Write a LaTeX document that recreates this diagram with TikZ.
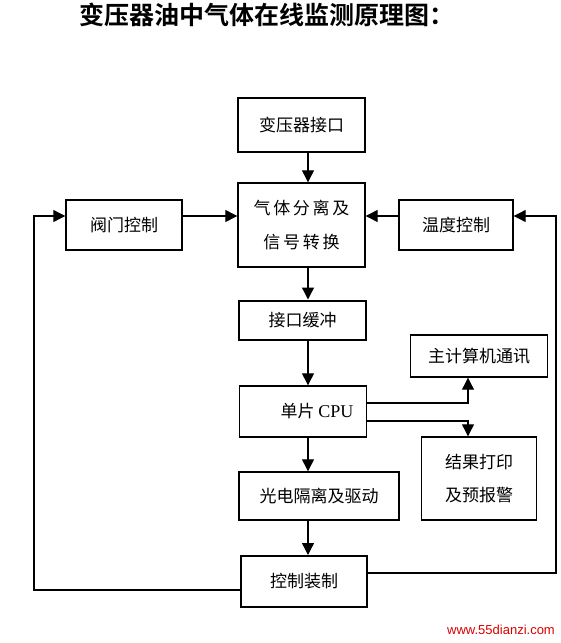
\documentclass[tikz,border=0pt]{standalone}
\usepackage{fontspec}
\setmainfont{Liberation Serif}
\newfontfamily\cjk{Noto Sans CJK SC}
\newfontfamily\cjkb{Noto Sans CJK SC Bold}
\newfontfamily\wsans{Liberation Sans}
\usetikzlibrary{arrows.meta}
\begin{document}
\begin{tikzpicture}[x=1pt,y=-1pt,
  box/.style={draw, line width=1.4pt, inner sep=0pt, font=\cjk\fontsize{17}{28}\selectfont, align=center},
  thick box/.style={box, line width=2pt},
  conn/.style={line width=1.3pt, -{Triangle[length=12pt,width=12pt]}},
  feed/.style={line width=1.1pt, -{Triangle[length=12pt,width=12pt]}},
  lbl/.style={inner sep=0pt}]
\useasboundingbox (0,0) rectangle (560,643);
\fill[white] (0,0) rectangle (560,643);
\node[lbl, font=\cjkb\fontsize{25}{25}\selectfont] (title) at (267,15) {变压器油中气体在线监测原理图：};
\node[box, minimum width=127pt, minimum height=54pt] (trans) at (301.5,125) {变压器接口};
\node[box, minimum width=127pt, minimum height=84pt, font=\cjk\fontsize{17}{34}\selectfont\addfontfeature{LetterSpace=16}] (gas) at (301.5,225) {气体分离及\\信号转换};
\node[box, minimum width=116pt, minimum height=50pt] (valve) at (124,225) {阀门控制};
\node[box, minimum width=114pt, minimum height=50pt] (temp) at (456,225) {温度控制};
\node[thick box, minimum width=127pt, minimum height=39pt] (buf) at (302.5,320) {接口缓冲};
\node[box, minimum width=137pt, minimum height=42pt] (host) at (479,356) {主计算机通讯};
\node[box, minimum width=127pt, minimum height=51pt] (cpu) at (303,411.5) {\hspace*{28pt}单片 {\rmfamily\fontsize{18}{18}\selectfont CPU}};
\node[box, minimum width=115pt, minimum height=83pt, font=\cjk\fontsize{17}{33}\selectfont] (print) at (479,478.5) {结果打印\\及预报警};
\node[box, minimum width=160pt, minimum height=48pt] (opto) at (319,496) {光电隔离及驱动};
\node[thick box, minimum width=126pt, minimum height=51pt] (ctrl) at (304,581.5) {控制装制};
\node[lbl, font=\wsans\fontsize{13}{13}\selectfont, text=red!85!black] (wm) at (501,630) {www.55dianzi.com};
\coordinate (col) at (308,0);
\coordinate (row) at (0,216);
\coordinate (lc) at (34,216);
\coordinate (rc) at (556,216);
\coordinate (fyl) at (0,590);
\coordinate (fyr) at (0,573);
\coordinate (hc) at (468,403);
\coordinate (pc) at (468,421);
\draw[conn] (trans.south -| col) -- (gas.north -| col);
\draw[conn] (gas.south -| col) -- (buf.north -| col);
\draw[conn] (buf.south -| col) -- (cpu.north -| col);
\draw[conn] (cpu.south -| col) -- (opto.north -| col);
\draw[conn] (opto.south -| col) -- (ctrl.north -| col);
\draw[conn] (valve.east |- row) -- (gas.west |- row);
\draw[conn] (temp.west |- row) -- (gas.east |- row);
\draw[feed] (ctrl.west |- fyl) -| (lc) -- (valve.west |- lc);
\draw[feed] (ctrl.east |- fyr) -| (rc) -- (temp.east |- rc);
\draw[feed] (cpu.east |- hc) -| (host.south -| hc);
\draw[feed] (cpu.east |- pc) -| (print.north -| pc);
\end{tikzpicture}
\end{document}
